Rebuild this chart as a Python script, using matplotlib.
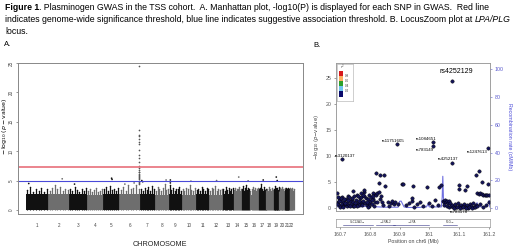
import matplotlib
matplotlib.use("Agg")
import matplotlib.pyplot as plt
from matplotlib.text import Annotation
import numpy as np

plt.rcParams['font.family'] = ['Liberation Sans', 'DejaVu Sans']

# ---- panel A data ----
chrom_names = [str(i) for i in range(1, 23)]
chrom_len = [241, 223, 197, 173, 173, 223, 162, 151, 137, 154, 143,
             145, 114, 91, 90, 93, 80, 81, 59, 65, 46, 49]
bulk_height = [2.8, 2.8, 2.7, 2.6, 2.7, 2.7, 2.8, 2.6, 2.7, 2.6, 2.8,
               2.6, 2.7, 2.6, 2.7, 2.6, 2.8, 2.6, 2.7, 2.6, 2.7, 2.6]
spike_height = [
    [3.4, 3.9, 3.1, 3.6, 3.2, 3.7, 3.0, 3.5],
    [3.3, 3.8, 4.3, 3.5, 3.9, 3.2, 3.6, 3.4],
    [3.6, 3.2, 3.9, 3.4, 3.1, 3.5, 3.3, 3.7],
    [3.2, 3.5, 3.0, 3.4, 3.8, 3.1, 3.3, 3.6],
    [3.5, 3.9, 3.2, 4.1, 3.4, 3.6, 3.3, 3.7],
    [3.4, 3.9, 3.3, 4.3, 3.6, 3.8, 4.2, 3.5],
    [3.6, 3.2, 3.8, 3.4, 3.9, 3.3, 4.0, 3.5],
    [3.3, 3.9, 3.5, 3.2, 3.7, 4.4, 3.4, 3.6],
    [4.3, 3.4, 3.8, 3.2, 3.6, 3.5, 3.9, 3.3],
    [3.5, 3.3, 3.8, 3.6, 4.2, 3.4, 3.2, 3.7],
    [3.4, 3.6, 3.2, 3.9, 3.5, 3.3, 3.8, 3.6],
    [3.3, 3.7, 3.5, 4.0, 3.2, 3.6, 3.4, 3.5],
    [3.6, 3.3, 3.9, 3.4, 3.7, 3.2, 3.5, 3.8],
    [3.4, 3.8, 3.3, 3.6, 3.5, 3.9, 3.2, 3.5],
    [3.6, 4.1, 3.3, 3.8, 4.3, 3.4, 3.7, 3.5],
    [3.3, 3.6, 3.9, 3.4, 3.7, 3.2, 3.5, 3.8],
    [3.5, 3.8, 4.5, 3.6, 3.3, 3.9, 3.4, 3.6],
    [3.4, 3.6, 3.2, 3.9, 3.5, 3.3, 3.7, 3.4],
    [3.6, 4.0, 3.5, 3.8, 3.3, 3.7, 3.4, 3.9],
    [3.3, 3.7, 3.5, 3.9, 3.4, 3.6, 3.2, 3.8],
    [3.5, 3.3, 3.8, 3.4, 3.6, 3.2, 3.7, 3.5],
    [3.4, 3.7, 3.3, 3.6, 3.5, 3.8, 3.2, 3.6],
]
# isolated hits: chromosome, position inside chromosome, -log10(p)
hit_chrom = [1, 2, 3, 5, 5, 6, 6, 7, 7, 8, 9, 9, 10, 12, 14, 15, 17, 19, 19]
hit_pos = [30, 150, 60, 90, 95, 60, 160, 20, 30, 120, 15, 15, 100, 80, 60, 70, 50, 30, 40]
hit_logp = [4.5, 5.3, 4.4, 5.4, 5.2, 4.4, 4.6, 5.0, 4.8, 5.1, 5.1, 4.6, 4.9, 5.0, 5.6, 4.9, 5.1, 5.6, 5.0]
# LPA/PLG locus on chromosome 6
locus_pos = 218
locus_logp = [24.5, 13.6, 12.8, 12.5, 12.0, 11.5, 11.2, 10.2, 9.4, 8.9, 8.1, 7.4,
              7.2, 6.8, 6.5, 6.4, 6.2, 6.0, 5.8, 5.6, 5.4, 5.2, 5.0, 4.8, 4.6, 4.4]
gw_threshold = 7.3
suggestive = 5.0

# ---- panel B data ----
snp_pos = [160.690, 160.692, 160.695, 160.698, 160.700, 160.703, 160.706, 160.708, 160.711,
           160.714, 160.716, 160.719, 160.722, 160.724, 160.727, 160.730, 160.733, 160.736,
           160.739, 160.742, 160.745, 160.748, 160.751, 160.754, 160.757, 160.760, 160.763,
           160.766, 160.769, 160.772, 160.775, 160.778, 160.781, 160.784, 160.787, 160.790,
           160.793, 160.796, 160.799, 160.802, 160.805, 160.808, 160.811, 160.814, 160.817,
           160.743, 160.770, 160.780, 160.810,
           160.689, 160.697, 160.704, 160.710, 160.718, 160.726, 160.732, 160.741, 160.749,
           160.756, 160.765, 160.773, 160.782, 160.791, 160.798, 160.806, 160.815,
           160.694, 160.712, 160.729, 160.747, 160.762, 160.777, 160.794, 160.812,
           160.822, 160.834, 160.848, 160.830, 160.850, 160.820, 160.825, 160.830, 160.835,
           160.840, 160.845, 160.825, 160.838,
           160.860, 160.870, 160.875, 160.880, 160.865, 160.885, 160.895,
           160.907, 160.912, 160.944, 160.991, 161.033, 161.039, 160.920, 160.930, 160.940,
           160.950, 160.960, 160.970, 160.980, 161.000, 161.010, 161.020, 161.030, 160.940,
           160.707, 160.890, 161.012, 161.012, 161.077, 161.075, 161.198,
           161.098, 161.100, 161.165, 161.156, 161.176, 161.197, 161.127, 161.118,
           161.046, 161.050, 161.053, 161.056, 161.060, 161.063, 161.067, 161.070, 161.048,
           161.058, 161.065,
           161.073, 161.077, 161.080, 161.085, 161.090, 161.095, 161.100, 161.105, 161.110,
           161.115, 161.120, 161.125, 161.130, 161.135, 161.140, 161.145, 161.150, 161.155,
           161.082, 161.092, 161.102, 161.112, 161.122, 161.132, 161.142, 161.152,
           161.160, 161.165, 161.170, 161.175, 161.180, 161.185, 161.190, 161.195, 161.200,
           161.160, 161.170, 161.180, 161.190, 161.200]
snp_logp = [2.9, 1.2, 0.6, 1.9, 0.3, 1.5, 0.9, 2.1, 0.5,
            1.3, 0.8, 1.7, 0.4, 1.1, 2.4, 0.7, 1.4, 0.9,
            1.8, 0.5, 1.2, 2.3, 0.8, 1.6, 2.6, 1.0, 0.6,
            1.9, 1.3, 2.2, 0.9, 1.5, 3.1, 1.1, 2.0, 0.7,
            1.7, 2.5, 1.0, 1.4, 2.2, 0.8, 1.8, 2.8, 1.2,
            3.3, 2.9, 3.5, 3.0,
            0.8, 1.4, 2.0, 0.3, 1.0, 1.6, 0.4, 2.0, 1.0,
            0.5, 1.5, 0.6, 2.3, 1.2, 0.4, 1.6, 0.5,
            2.2, 1.7, 2.1, 0.4, 2.3, 2.6, 0.3, 2.4,
            6.7, 6.5, 6.4, 4.9, 4.3, 2.6, 2.9, 3.1, 1.8,
            1.2, 0.6, 1.3, 2.4,
            1.2, 1.0, 1.4, 0.9, 0.4, 1.3, 0.8,
            4.6, 4.6, 4.3, 4.1, 4.1, 4.4, 0.6, 1.1, 1.5,
            0.3, 0.8, 1.3, 0.5, 1.0, 0.4, 1.6, 0.7, 2.0,
            9.4, 12.3, 12.75, 11.9, 8.7, 24.4, 11.6,
            4.4, 3.8, 7.2, 6.4, 5.1, 4.6, 4.2, 3.6,
            1.5, 1.3, 1.6, 1.2, 1.5, 1.1, 1.4, 1.0, 0.6,
            0.5, 0.3,
            0.5, 0.6, 0.2, 0.8, 0.3, 1.0, 0.4, 0.7, 0.2,
            0.9, 0.3, 0.6, 0.1, 0.8, 0.4, 1.1, 0.3, 0.7,
            0.1, 0.2, 0.1, 0.3, 0.1, 0.2, 0.1, 0.2,
            3.0, 2.8, 2.9, 2.7, 2.6, 2.6, 2.5, 2.5, 2.5,
            0.5, 0.9, 0.3, 0.6, 1.2]
snp_labels = ["rs4252129", "rs11751605", "rs1084651", "rs783149",
              "rs4252137", "rs1247613", "rs3120137", "rs783178"]
label_x = [161.090, 160.877, 160.988, 160.985, 161.063, 161.196, 160.717, 161.100]
label_y = [26.3, 12.9, 13.4, 11.2, 9.4, 10.75, 10.05, -0.75]

rec_pos = [160.687, 160.700, 160.760, 160.795, 160.800, 160.805, 160.812, 160.850, 160.895,
           160.900, 160.905, 160.915, 160.925, 160.960, 160.990, 160.995, 161.000, 161.040,
           161.043, 161.045, 161.047, 161.050, 161.100, 161.150, 161.160, 161.165, 161.190,
           161.197, 161.200, 161.203]
rec_rate = [1.0, 1.2, 1.0, 1.5, 4.5, 4.0, 1.2, 0.8, 0.8,
            5.0, 5.2, 1.0, 0.6, 0.6, 1.0, 3.0, 1.0, 1.0,
            8.0, 23.0, 8.0, 1.2, 1.0, 1.0, 4.0, 1.2, 1.0,
            3.5, 5.5, 1.0]

r2_colors = ['#d7191c', '#fdae61', '#2ca02c', '#6ec6f0', '#0a0a6b']
r2_ticks = ["0.8", "0.6", "0.4", "0.2"]

genes = ["SLC22A3\u2192", "\u2190LPAL2", "\u2190LPA", "PLG\u2192"]
gene_start = [160.710, 160.820, 160.878, 161.045]
gene_end = [160.810, 160.885, 161.000, 161.093]

W, H = 520, 247
fig = plt.figure(figsize=(W / 100, H / 100), dpi=100)


def fx(px):
    return px / W


def fy(py):
    return 1 - py / H


# ---- caption, pieces chained one after the other ----
cap_fs = 6.27


def chain(y, pieces):
    prev = fig.text(fx(5), fy(y), pieces[0][0], fontsize=cap_fs, fontweight=pieces[0][1],
                    fontstyle=pieces[0][2], va='bottom', ha='left')
    for txt, weight, style in pieces[1:]:
        prev = fig.add_artist(Annotation(txt, xy=(1, 0), xycoords=prev, va='bottom',
                                         ha='left', fontsize=cap_fs, fontweight=weight,
                                         fontstyle=style))


chain(12, [("Figure 1", 'bold', 'normal'),
           (". Plasminogen GWAS in the TSS cohort.  A. Manhattan plot, -log10(P) is displayed "
            "for each SNP in GWAS.  Red line", 'normal', 'normal')])
chain(24, [("indicates genome-wide significance threshold, blue line indicates suggestive "
            "association threshold. B. LocusZoom plot at ", 'normal', 'normal'),
           ("LPA/PLG", 'normal', 'italic')])
chain(36, [("locus.", 'normal', 'normal')])

fig.text(fx(4), fy(48), "A.", fontsize=5.5, va='bottom', ha='left')
fig.text(fx(313), fy(49), "B.", fontsize=5.5, va='bottom', ha='left')

# ---- panel A: Manhattan ----
axA = fig.add_axes([fx(18), fy(213.5), fx(284.5), (213.5 - 63) / H])
starts = np.concatenate([[0], np.cumsum(chrom_len)[:-1]])
cols = ['#111111', '#6e6e6e']
for i, L in enumerate(chrom_len):
    c = cols[i % 2]
    axA.bar(starts[i] + L / 2, bulk_height[i], width=L, color=c, linewidth=0)
    n = len(spike_height[i])
    xs = starts[i] + (np.arange(n) + 0.5) / n * L
    axA.vlines(xs, 0, spike_height[i], color=c, lw=0.9)
    axA.scatter(xs, spike_height[i], s=1.2, color=c, linewidths=0)
hx = [starts[c - 1] + p for c, p in zip(hit_chrom, hit_pos)]
hc = [cols[(c - 1) % 2] for c in hit_chrom]
axA.scatter(hx, hit_logp, s=1.5, c=hc, linewidths=0)
axA.scatter([starts[5] + locus_pos] * len(locus_logp), locus_logp, s=1.5,
            color='#555555', linewidths=0)
axA.axhline(gw_threshold, color='#e8707a', lw=1.2)
axA.axhline(suggestive, color='#4a4ad8', lw=0.8)
axA.set_xlim(-86, 2984)
axA.set_ylim(-0.6, 25.0)
axA.set_yticks([0, 5, 10, 15, 20, 25])
axA.set_yticklabels(['0', '5', '10', '15', '20', '25'], rotation=90, va='center')
axA.set_xticks(starts + np.array(chrom_len) / 2)
axA.set_xticklabels(chrom_names)
axA.tick_params(axis='both', labelsize=3.3, length=1.5, width=0.4, colors='#444444', pad=1.5)
axA.tick_params(axis='x', length=0, pad=7)
for s in axA.spines.values():
    s.set_color('#888888')
    s.set_linewidth(0.7)
axA.set_xlabel("CHROMOSOME", fontsize=5.2, labelpad=9, color='#222222')
fig.text(fx(4.8), fy(126), r"$-\,\log_{10}(p-\mathrm{value})$", fontsize=4.5,
         rotation=90, ha='center', va='center')

# ---- panel B: LocusZoom ----
axB = fig.add_axes([fx(336), fy(210.5), fx(154), (210.5 - 63) / H])
axR = axB.twinx()
axR.plot(rec_pos, rec_rate, color='#7070e0', lw=0.8)
axR.set_ylim(-1.57, 104.3)
axR.set_yticks([0, 20, 40, 60, 80, 100])
axR.tick_params(labelsize=3.8, length=1.5, width=0.4, colors='#5555cc', pad=2)
axR.set_ylabel("Recombination rate (cM/Mb)", fontsize=3.8, color='#4a4ad8',
               rotation=270, labelpad=6)
axB.set_zorder(axR.get_zorder() + 1)
axB.patch.set_visible(False)
axB.scatter(snp_pos, snp_logp, s=6, color='#14145a', edgecolors='black', linewidths=0.3)
for t, x, y in zip(snp_labels, label_x, label_y):
    fs = 5.0 if t == "rs4252129" else 3.2
    ha = 'right' if t == "rs1247613" else 'center'
    axB.text(x, y, t, fontsize=fs, ha=ha, va='center', clip_on=False)
axB.set_xlim(160.6866, 161.2034)
axB.set_ylim(-0.42, 27.94)
axB.set_yticks([0, 5, 10, 15, 20, 25])
axB.set_xticks([])
axB.tick_params(labelsize=3.8, length=1.5, width=0.4, colors='#555555', pad=2)
axB.set_ylabel(r"$-\log_{10}(p\mathrm{-value})$", fontsize=3.8, color='#444444', labelpad=3)
for a in (axB, axR):
    for s in a.spines.values():
        s.set_color('#999999')
        s.set_linewidth(0.5)

# r2 legend
axL = fig.add_axes([fx(337.3), fy(101), fx(15.4), 36.7 / H])
axL.set_xlim(0, 1)
axL.set_ylim(0, 1)
tops = [0.826, 0.690, 0.554, 0.418, 0.282]
heights = [0.136, 0.136, 0.136, 0.136, 0.172]
for c, t, h in zip(r2_colors, tops, heights):
    axL.bar(0.25, h, bottom=t - h, width=0.28, color=c, linewidth=0)
for lab, t in zip(r2_ticks, tops[1:]):
    axL.text(0.5, t, lab, fontsize=2.2, va='center', ha='left', color='#333333')
axL.text(0.35, 0.92, r"$r^2$", fontsize=2.6, ha='center', va='center', color='#444444')
axL.set_xticks([])
axL.set_yticks([])
for s in axL.spines.values():
    s.set_color('#aaaaaa')
    s.set_linewidth(0.4)

# gene track
axG = fig.add_axes([fx(336), fy(227.3), fx(154), 8 / H])
axG.set_xlim(160.6866, 161.2034)
axG.set_ylim(0, 1)
for g, a, b in zip(genes, gene_start, gene_end):
    axG.plot([a, b], [0.3, 0.3], color='#333388', lw=0.4)
    axG.text((a + b) / 2, 0.7, g, fontsize=2.2, ha='center', va='center', color='#333333')
axG.set_yticks([])
axG.set_xticks([160.7, 160.8, 160.9, 161.0, 161.1, 161.2])
axG.set_xticklabels(['160.7', '160.8', '160.9', '161', '161.1', '161.2'])
axG.tick_params(labelsize=3.8, length=1.5, width=0.4, colors='#555555', pad=2)
axG.set_xlabel("Position on chr6 (Mb)", fontsize=3.8, color='#444444', labelpad=1)
for s in axG.spines.values():
    s.set_color('#999999')
    s.set_linewidth(0.5)

fig.savefig("out.png", dpi=100)
